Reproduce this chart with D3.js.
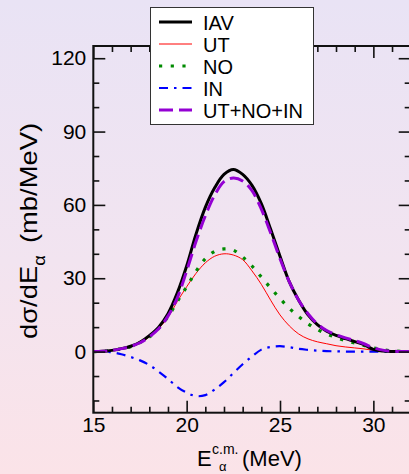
<!DOCTYPE html>
<html>
<head>
<meta charset="utf-8">
<script src="https://cdn.jsdelivr.net/npm/d3@7"></script>
<style>
  html, body { margin: 0; padding: 0; background: #f2e4f0; }
  svg { display: block; font-family: "Liberation Sans", Arial, Helvetica, sans-serif; }
</style>
</head>
<body>
<svg id="chart" width="409" height="474"></svg>
<script>
// Alpha-particle energy spectra, dσ/dE (mb/MeV) vs E (MeV)
const energies = [15, 15.5, 16, 16.5, 17, 17.5, 18, 18.5, 19, 19.5, 20, 20.5, 21, 21.5, 22, 22.5,
  23, 23.5, 24, 24.5, 25, 25.5, 26, 26.5, 27, 27.5, 28, 28.5, 29, 29.5, 30, 30.5, 31, 31.5, 32];

const iav = [0, 0.1, 0.5, 1.2, 2.2, 3.8, 6.5, 10, 15.5, 24, 35, 48, 59, 67, 72.5, 74.5,
  72.5, 68, 60.5, 50, 39, 28.5, 21, 15, 11, 8.3, 6.6, 5.3, 4.1, 2.8, 0.9, 0.2, 0, 0, 0];

const ut = [0, 0.1, 0.5, 1.1, 1.9, 3.5, 6, 9.5, 14, 20.5, 26.5, 32, 36.3, 39, 40, 39.5,
  37.6, 33, 27.5, 21, 15, 10.5, 7.2, 5.2, 4.0, 3.2, 2.4, 1.9, 1.5, 1.1, 0.5, 0.2, 0, 0, 0];

const no = [0, 0.1, 0.5, 1.1, 2, 3.7, 6, 9.5, 14.2, 20.5, 26.5, 32.8, 38, 41, 42, 41.5,
  38.7, 35, 30.5, 26, 21.7, 17.7, 14.3, 11.4, 9, 7.2, 5.8, 4.5, 3.5, 2.5, 1.5, 0.8, 0.3, 0.1, 0];

const inn = [0, 0, -0.3, -1.1, -2.2, -3.6, -5.5, -8.2, -11.2, -14.5, -16.8, -18.2, -17.8, -15.5, -12.5, -8.8,
  -5.2, -2, 0.8, 1.9, 2.2, 1.8, 1.1, 0.7, 0.4, 0.2, 0.1, 0, 0, 0, 0, 0, 0, 0, 0];

const sum = [0, 0.1, 0.5, 1.2, 2.1, 3.6, 6, 9.3, 14.5, 22, 33, 45, 55.5, 64, 69.5, 71,
  69.8, 65.8, 58.3, 48.5, 38, 28.5, 21, 15.5, 11.3, 8.6, 6.9, 5.6, 4.5, 3.2, 1.6, 0.6, 0.2, 0, 0];

const xTicks = [15, 20, 25, 30];
const yTicks = [0, 30, 60, 90, 120];
const seriesNames = ["IAV", "UT", "NO", "IN", "UT+NO+IN"];

(function draw() {
  const series = [
    { name: seriesNames[0], values: iav, color: "#000000", width: 3, dash: null },
    { name: seriesNames[1], values: ut, color: "#ff0000", width: 1, dash: null },
    { name: seriesNames[2], values: no, color: "#008b00", width: 3.2, dash: "3.2,8.5" },
    { name: seriesNames[3], values: inn, color: "#0000ff", width: 2.2, dash: "9,6,2.5,6" },
    { name: seriesNames[4], values: sum, color: "#9400d3", width: 3, dash: "14,6" }
  ];

  const svg = d3.select("#chart");
  const W = 409, H = 474;

  // page background gradient
  const defs = svg.append("defs");
  const grad = defs.append("linearGradient").attr("id", "bg")
    .attr("x1", 0).attr("y1", 0).attr("x2", 0).attr("y2", 1);
  grad.append("stop").attr("offset", "0%").attr("stop-color", "#e9e3f5");
  grad.append("stop").attr("offset", "55%").attr("stop-color", "#f2e4f0");
  grad.append("stop").attr("offset", "100%").attr("stop-color", "#fbe3e8");
  svg.append("rect").attr("width", W).attr("height", H).attr("fill", "url(#bg)");

  const pl = 93.3, pr = 410.7, pt = 46, pb = 412.7;
  const x = d3.scaleLinear().domain([15, 32]).range([pl, pr]);
  const y = d3.scaleLinear().domain([-25, 125]).range([pb, pt]);

  const clip = defs.append("clipPath").attr("id", "plotclip");
  clip.append("rect").attr("x", pl).attr("y", pt).attr("width", pr - pl).attr("height", pb - pt);

  // curves
  const line = d3.line()
    .x((d, i) => x(energies[i]))
    .y(d => y(d))
    .curve(d3.curveCatmullRom.alpha(0.5));

  const plot = svg.append("g").attr("clip-path", "url(#plotclip)");
  const order = [1, 2, 3, 0, 4];
  order.forEach(k => {
    const s = series[k];
    plot.append("path")
      .attr("d", line(s.values))
      .attr("fill", "none")
      .attr("stroke", s.color)
      .attr("stroke-width", s.width)
      .attr("stroke-dasharray", s.dash)
      .attr("stroke-linejoin", "round");
  });

  // axes with inward ticks
  const xMinor = d3.range(15, 33, 1).filter(v => !xTicks.includes(v));
  const yMinor = d3.range(-20, 125, 10).filter(v => !yTicks.includes(v));
  const fmt = d3.format("d");

  function styleAxis(g, fontSize) {
    g.select(".domain").remove();
    g.selectAll(".tick line").attr("stroke", "#111").attr("stroke-width", 1.6);
    g.selectAll(".tick text").attr("fill", "#000").style("font-size", fontSize + "px")
      .style("font-family", "'Liberation Sans', Arial, sans-serif");
  }

  svg.append("g").attr("transform", `translate(0,${pb})`)
    .call(d3.axisBottom(x).tickValues(xTicks).tickFormat(fmt).tickSize(-12).tickPadding(4))
    .call(g => styleAxis(g, 21));
  svg.append("g").attr("transform", `translate(0,${pb})`)
    .call(d3.axisBottom(x).tickValues(xMinor).tickFormat("").tickSize(-6))
    .call(g => styleAxis(g, 21));
  svg.append("g").attr("transform", `translate(0,${pt})`)
    .call(d3.axisTop(x).tickValues(xTicks).tickFormat("").tickSize(-12))
    .call(g => styleAxis(g, 21));
  svg.append("g").attr("transform", `translate(0,${pt})`)
    .call(d3.axisTop(x).tickValues(xMinor).tickFormat("").tickSize(-6))
    .call(g => styleAxis(g, 21));

  svg.append("g").attr("transform", `translate(${pl},0)`)
    .call(d3.axisLeft(y).tickValues(yTicks).tickFormat(fmt).tickSize(-12).tickPadding(7))
    .call(g => styleAxis(g, 21));
  svg.append("g").attr("transform", `translate(${pl},0)`)
    .call(d3.axisLeft(y).tickValues(yMinor).tickFormat("").tickSize(-6))
    .call(g => styleAxis(g, 21));
  svg.append("g").attr("transform", `translate(${pr},0)`)
    .call(d3.axisRight(y).tickValues(yTicks).tickFormat("").tickSize(-12))
    .call(g => styleAxis(g, 21));
  svg.append("g").attr("transform", `translate(${pr},0)`)
    .call(d3.axisRight(y).tickValues(yMinor).tickFormat("").tickSize(-6))
    .call(g => styleAxis(g, 21));

  // frame
  svg.append("rect")
    .attr("x", pl).attr("y", pt)
    .attr("width", pr - pl).attr("height", pb - pt)
    .attr("fill", "none").attr("stroke", "#111").attr("stroke-width", 2);

  // legend
  const lg = svg.append("g");
  lg.append("rect").attr("x", 150.5).attr("y", 7.5).attr("width", 163).attr("height", 117)
    .attr("fill", "#ffffff").attr("stroke", "#333").attr("stroke-width", 1);
  series.forEach((s, i) => {
    const ry = 22 + i * 22;
    lg.append("line")
      .attr("x1", 159).attr("x2", 192).attr("y1", ry).attr("y2", ry)
      .attr("stroke", s.color).attr("stroke-width", s.width)
      .attr("stroke-dasharray", s.dash);
    lg.append("text")
      .attr("x", 203).attr("y", ry + 7.5)
      .style("font-size", "20px").attr("fill", "#000")
      .text(s.name);
  });

  // axis titles
  const xt = svg.append("g").style("font-size", "22px").attr("fill", "#000");
  xt.append("text").attr("x", 197).attr("y", 466).text("E");
  xt.append("text").attr("x", 212).attr("y", 454).style("font-size", "14px").text("c.m.");
  xt.append("text").attr("x", 219).attr("y", 471).style("font-size", "13px").text("α");
  xt.append("text").attr("x", 242).attr("y", 466).text("(MeV)");

  const yt = svg.append("text")
    .attr("transform", "translate(37,231) rotate(-90)")
    .attr("text-anchor", "middle")
    .attr("textLength", 216)
    .attr("lengthAdjust", "spacingAndGlyphs")
    .style("font-size", "24px").attr("fill", "#000");
  yt.append("tspan").text("dσ/dE");
  yt.append("tspan").attr("dy", 8).style("font-size", "16px").text("α");
  yt.append("tspan").attr("dy", -8).attr("dx", 4).text(" (mb/MeV)");
})();
</script>
</body>
</html>
